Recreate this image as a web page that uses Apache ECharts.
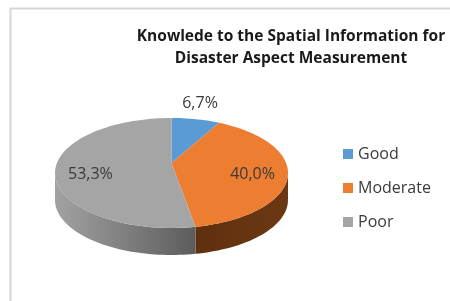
<!DOCTYPE html>
<html>
<head>
<meta charset="utf-8">
<script src="https://cdn.jsdelivr.net/npm/echarts@6/dist/echarts.min.js"></script>
<style>
  html, body { margin: 0; padding: 0; background: #fff; }
  #chart { width: 450px; height: 301px; }
</style>
</head>
<body>
<div id="chart"></div>
<script>
const categories = ['Good', 'Moderate', 'Poor']
const shares = [6.7, 40.0, 53.3]

const TOP_COLORS = ['#5b9bd5', '#ed7d31', '#a5a5a5']
const SIDE_STOPS = [
  [[0, '#3f6f9c'], [1, '#3f6f9c']],
  [[0, '#8a4a1c'], [0.6, '#5f300f'], [1, '#6c3813']],
  [[0, '#a2a2a2'], [0.62, '#5a5a5a'], [1, '#5a5a5a']]
]
const FONT = '"Open Sans", sans-serif'

// ellipse geometry of the tilted pie
const CX = 171.5
const CY = 173
const RX = 116.5
const RY = 55
const HUB_Y = 163
const DEPTH = 27

const total = shares.reduce((a, b) => a + b, 0)
let acc = 0
const spans = shares.map(v => {
  const s = acc / total * 360
  acc += v
  return [s, acc / total * 360]
})

function rim(deg, dy = 0) {
  const a = deg * Math.PI / 180
  return [CX + RX * Math.sin(a), CY - RY * Math.cos(a) + dy]
}

function arc(a0, a1, dy) {
  const pts = []
  const n = Math.max(2, Math.ceil((a1 - a0) / 2))
  for (let i = 0; i <= n; i++) pts.push(rim(a0 + (a1 - a0) * i / n, dy))
  return pts
}

function makeRender(idx) {
  return function (params, api) {
    const s = api.value(0)
    const e = api.value(1)
    const children = []

    const f0 = Math.max(s, 90)
    const f1 = Math.min(e, 270)
    if (f1 > f0) {
      const pts = arc(f0, f1, 0).concat(arc(f0, f1, DEPTH).reverse())
      children.push({
        type: 'polygon',
        shape: { points: pts },
        style: {
          fill: {
            type: 'linear', global: true,
            x: CX - RX, y: 0, x2: CX + RX, y2: 0,
            colorStops: SIDE_STOPS[idx].map(([offset, color]) => ({ offset, color }))
          }
        }
      })
    }

    children.push({
      type: 'polygon',
      shape: { points: [[CX, HUB_Y]].concat(arc(s, e, 0)) },
      style: { fill: TOP_COLORS[idx] }
    })

    const mid = (s + e) / 2
    const r = rim(mid)
    const a = mid * Math.PI / 180
    let lx, ly
    if (e - s < 36) {
      lx = r[0] + Math.sin(a) * 20
      ly = r[1] - Math.cos(a) * 16
    } else {
      lx = CX + (r[0] - CX) * 0.7
      ly = HUB_Y + (r[1] - HUB_Y) * 0.7
    }
    children.push({
      type: 'text',
      x: lx, y: ly,
      style: {
        text: (shares[idx].toFixed(1) + '%').replace('.', ','),
        fill: '#3a3a3a',
        font: '16px ' + FONT,
        align: 'center',
        verticalAlign: 'middle'
      }
    })

    return { type: 'group', children }
  }
}

const chart = echarts.init(document.getElementById('chart'))

chart.setOption({
  backgroundColor: '#fff',
  animation: false,
  title: {
    text: 'Knowlede to the Spatial Information for\nDisaster Aspect Measurement',
    left: 291,
    top: 26,
    padding: 0,
    textAlign: 'center',
    textStyle: {
      fontFamily: FONT,
      fontWeight: 'bold',
      fontSize: 15.5,
      lineHeight: 22,
      color: '#1a1a1a'
    }
  },
  legend: {
    orient: 'vertical',
    left: 343,
    top: 146,
    padding: 0,
    itemWidth: 10,
    itemHeight: 10,
    itemGap: 18,
    icon: 'rect',
    textStyle: { fontFamily: FONT, fontSize: 16, color: '#3a3a3a' },
    data: categories
  },
  graphic: [{
    type: 'rect',
    shape: { x: 10.5, y: 8.5, width: 480, height: 320 },
    style: { fill: 'none', stroke: '#d6d6d6', lineWidth: 2 },
    silent: true
  }],
  series: categories.map((name, i) => ({
    type: 'custom',
    name,
    coordinateSystem: 'none',
    itemStyle: { color: TOP_COLORS[i] },
    data: [spans[i]],
    renderItem: makeRender(i)
  }))
})
</script>
</body>
</html>
